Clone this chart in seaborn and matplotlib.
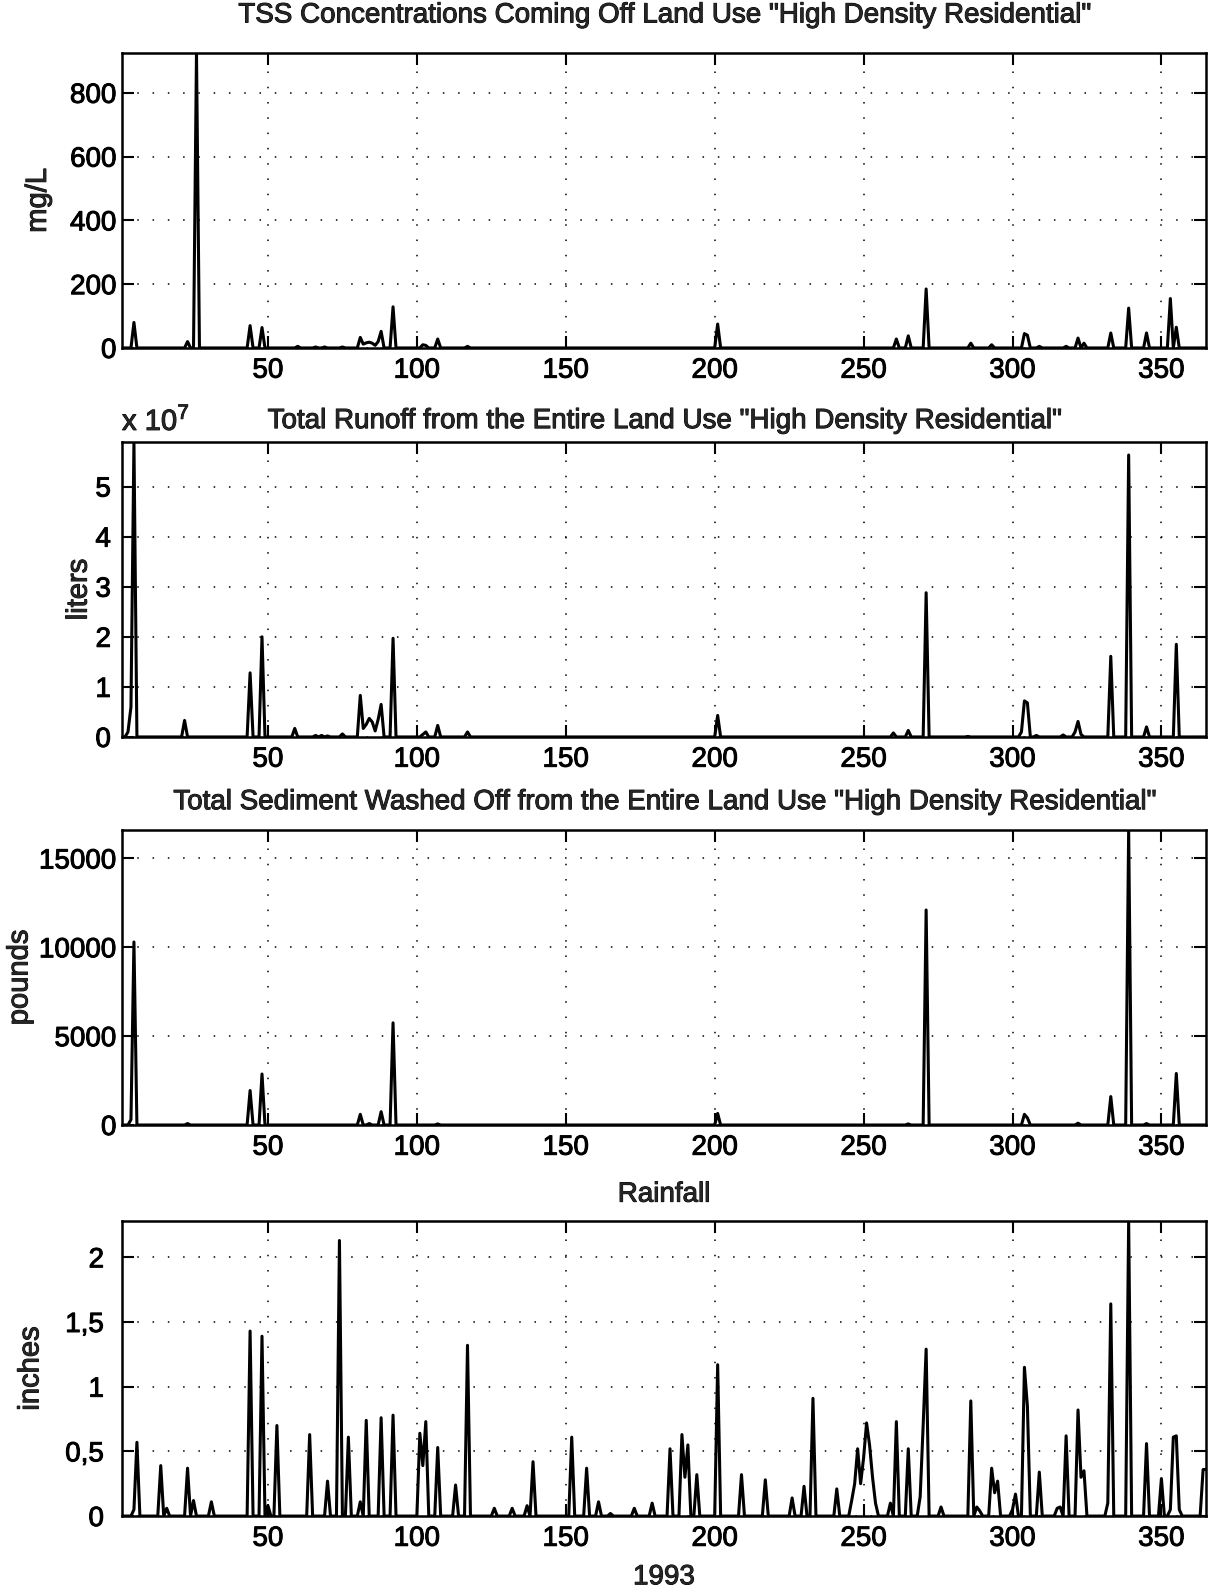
"""
plot.py - daily TSS / runoff / sediment / rainfall, land use "High Density Residential", 1993

Rebuilds the four stacked MATLAB-style panels and saves out.png
"""

import matplotlib
matplotlib.use("Agg")
import matplotlib.patheffects as pe
import matplotlib.pyplot as plt
import numpy as np
import seaborn as sns
from matplotlib.ticker import FixedLocator, FuncFormatter

OUT_FILE = "out.png"
N_DAYS   = 365

# ── TSS concentration (mg/L), only the days with a non-zero value ───────────
tss_days = [5, 23, 26, 44, 48, 60, 66, 69, 75, 81, 82, 83, 84, 85, 86, 87, 88,
            92, 102, 103, 107, 117, 201, 261, 265, 271, 286, 293, 304, 305,
            309, 318, 322, 324, 333, 339, 345, 353, 355]
tss_mgl  = [80, 20, 925, 70, 64, 5, 3, 3, 3, 33, 12, 16, 18, 15, 8, 20, 52,
            129, 10, 8, 28, 5, 75, 28, 38, 185, 15, 10, 45, 40,
            5, 5, 31, 15, 47, 125, 47, 155, 65]

# ── total runoff (x 1e7 liters) ─────────────────────────────────────────────
runoff_days = [3, 4, 5, 22, 44, 48, 59, 66, 68, 70, 75, 81, 82, 83, 84, 85, 86,
               87, 88, 92, 102, 103, 107, 117, 201, 260, 265, 271, 285, 303,
               304, 305, 308, 317, 321, 322, 323, 333, 339, 345, 355]
runoff_e7   = [0.1, 0.6, 5.89, 0.33, 1.28, 2.0, 0.17, 0.03, 0.03, 0.02, 0.06,
               0.83, 0.17, 0.25, 0.37, 0.3, 0.12, 0.35, 0.65, 1.97, 0.05, 0.1,
               0.23, 0.1, 0.43, 0.08, 0.13, 2.88, 0.01, 0.1,
               0.72, 0.68, 0.03, 0.04, 0.1, 0.31, 0.05, 1.61, 5.63, 0.2, 1.85]

# ── total sediment washed off (pounds) ──────────────────────────────────────
sed_days   = [4, 5, 23, 44, 48, 81, 84, 88, 92, 107, 201, 265, 271, 304, 305,
              322, 333, 339, 345, 355]
sed_pounds = [300, 10300, 80, 1940, 2870, 600, 80, 750, 5750, 60, 650, 60,
              12100, 600, 400, 100, 1600, 16600, 80, 2900]

# ── rainfall (inches) ───────────────────────────────────────────────────────
rain_days   = [5, 6, 14, 16, 23, 25, 31, 44, 48, 50, 53, 64, 70, 74, 77, 81, 83,
               88, 92, 101, 102, 103, 107, 113, 117, 126, 132, 137, 139, 152,
               157, 161, 165, 173, 179, 185, 189, 190, 191, 194, 201, 209, 217,
               226, 230, 233, 241, 246, 247, 248, 249, 250, 251, 252, 253, 254,
               259, 261, 265, 269, 270, 271, 276, 286, 288, 289, 293, 294, 295,
               300, 301, 304, 305, 309, 315, 316, 318, 322, 323, 324, 332, 333,
               339, 345, 350, 353, 354, 355, 356, 364, 365]
rain_inches = [0.05, 0.57, 0.39, 0.06, 0.37, 0.12, 0.11, 1.43, 1.39, 0.08, 0.70,
               0.63, 0.27, 2.13, 0.61, 0.11, 0.74, 0.76, 0.78, 0.64, 0.39, 0.73,
               0.53, 0.24, 1.32, 0.06, 0.06, 0.08, 0.42, 0.61, 0.37, 0.11, 0.02,
               0.06, 0.10, 0.52, 0.63, 0.30, 0.55, 0.32, 1.17, 0.32, 0.28, 0.14,
               0.23, 0.91, 0.21, 0.12, 0.25, 0.52, 0.25, 0.45, 0.72, 0.55, 0.30,
               0.10, 0.10, 0.73, 0.52, 0.15, 0.70, 1.29, 0.07, 0.89, 0.07, 0.04,
               0.37, 0.18, 0.27, 0.05, 0.17, 1.15, 0.85, 0.34, 0.06, 0.07, 0.62,
               0.82, 0.30, 0.35, 0.10, 1.64, 2.28, 0.56, 0.29, 0.05, 0.61, 0.62,
               0.05, 0.36, 0.36]

X_TICKS = [50, 100, 150, 200, 250, 300, 350]

TITLES = [
    'TSS Concentrations Coming Off Land Use "High Density Residential"',
    'Total Runoff from the Entire Land Use "High Density Residential"',
    'Total Sediment Washed Off from the Entire Land Use "High Density Residential"',
    'Rainfall',
]
YLABELS = ["mg/L", "liters", "pounds", "inches"]
Y_TICKS = [
    [0, 200, 400, 600, 800],
    [0, 1e7, 2e7, 3e7, 4e7, 5e7],
    [0, 5000, 10000, 15000],
    [0, 0.5, 1, 1.5, 2],
]

# axes boxes in figure fractions [left, bottom, width, height]
AX_LEFT, AX_WIDTH, AX_HEIGHT = 0.1006, 0.8937, 0.1854
AX_BOTTOMS = [0.7813, 0.5368, 0.2929, 0.0471]

# per-panel spacing (points), the scanned original is not uniform
TITLE_PADS  = [22, 10, 15, 14]
YTICK_PADS  = [4, 8, 4, 13]
YLABEL_PADS = [13, 2, 4, 15]

FS_TITLE  = 20
FS_TICK   = 20
FS_YLABEL = 21
FS_XLABEL = 20

# thicken glyphs a little, like the photocopied original
INK = [pe.withStroke(linewidth=0.7, foreground="black")]


def daily_series(days, values, scale=1.0):
    """zero everywhere except the listed days"""
    y = np.zeros(N_DAYS)
    y[np.asarray(days) - 1] = np.asarray(values, dtype=float) * scale
    return y


def style_axis(ax, yticks, yfmt, ypad):
    ax.set_xlim(1, N_DAYS)
    ax.xaxis.set_major_locator(FixedLocator(X_TICKS))
    ax.yaxis.set_major_locator(FixedLocator(yticks))
    ax.yaxis.set_major_formatter(FuncFormatter(yfmt))
    ax.tick_params(direction="in", top=True, right=True, length=8.5, width=1.5,
                   labelsize=FS_TICK, colors="black")
    ax.tick_params(axis="x", pad=7)
    ax.tick_params(axis="y", pad=ypad)
    ax.grid(True, color="black", ls=(0, (1, 9)), lw=1.1)
    for sp in ax.spines.values():
        sp.set_visible(True)
        sp.set_color("black")
        sp.set_linewidth(1.8)
    for lab in ax.get_xticklabels() + ax.get_yticklabels():
        lab.set_path_effects(INK)


def main():
    sns.set_theme(style="ticks")
    plt.rcParams["font.family"] = ["Liberation Sans", "DejaVu Sans"]
    plt.rcParams["mathtext.fontset"] = "custom"
    plt.rcParams["mathtext.rm"] = "Liberation Sans"

    days = np.arange(1, N_DAYS + 1)
    series = [
        daily_series(tss_days, tss_mgl),
        daily_series(runoff_days, runoff_e7, 1e7),
        daily_series(sed_days, sed_pounds),
        daily_series(rain_days, rain_inches),
    ]
    yfmts = [
        lambda v, p: f"{v:g}",
        lambda v, p: f"{v / 1e7:g}",
        lambda v, p: f"{v:g}",
        lambda v, p: f"{v:g}".replace(".", ","),
    ]

    fig = plt.figure(figsize=(12.13, 15.91), dpi=100)
    fig.patch.set_facecolor("white")

    for i, y in enumerate(series):
        ax = fig.add_axes([AX_LEFT, AX_BOTTOMS[i], AX_WIDTH, AX_HEIGHT])
        ax.set_facecolor("white")
        sns.lineplot(x=days, y=y, ax=ax, color="black", lw=2.2,
                     estimator=None, errorbar=None)
        ax.set_ylim(0, y.max())          # MATLAB "axis tight"
        style_axis(ax, Y_TICKS[i], yfmts[i], YTICK_PADS[i])
        t = ax.set_title(TITLES[i], fontsize=FS_TITLE, pad=TITLE_PADS[i])
        t.set_path_effects(INK)
        yl = ax.set_ylabel(YLABELS[i], fontsize=FS_YLABEL, labelpad=YLABEL_PADS[i])
        yl.set_path_effects(INK)
        ax.set_xlabel("")
        if i == 1:
            ax.text(0.0, 1.02, r"x 10$^{7}$", transform=ax.transAxes,
                    ha="left", va="bottom", fontsize=21, path_effects=INK)
        if i == 3:
            xl = ax.set_xlabel("1993", fontsize=FS_XLABEL, labelpad=9)
            xl.set_path_effects(INK)

    fig.savefig(OUT_FILE, dpi=100, facecolor="white")
    plt.close(fig)


if __name__ == "__main__":
    main()
